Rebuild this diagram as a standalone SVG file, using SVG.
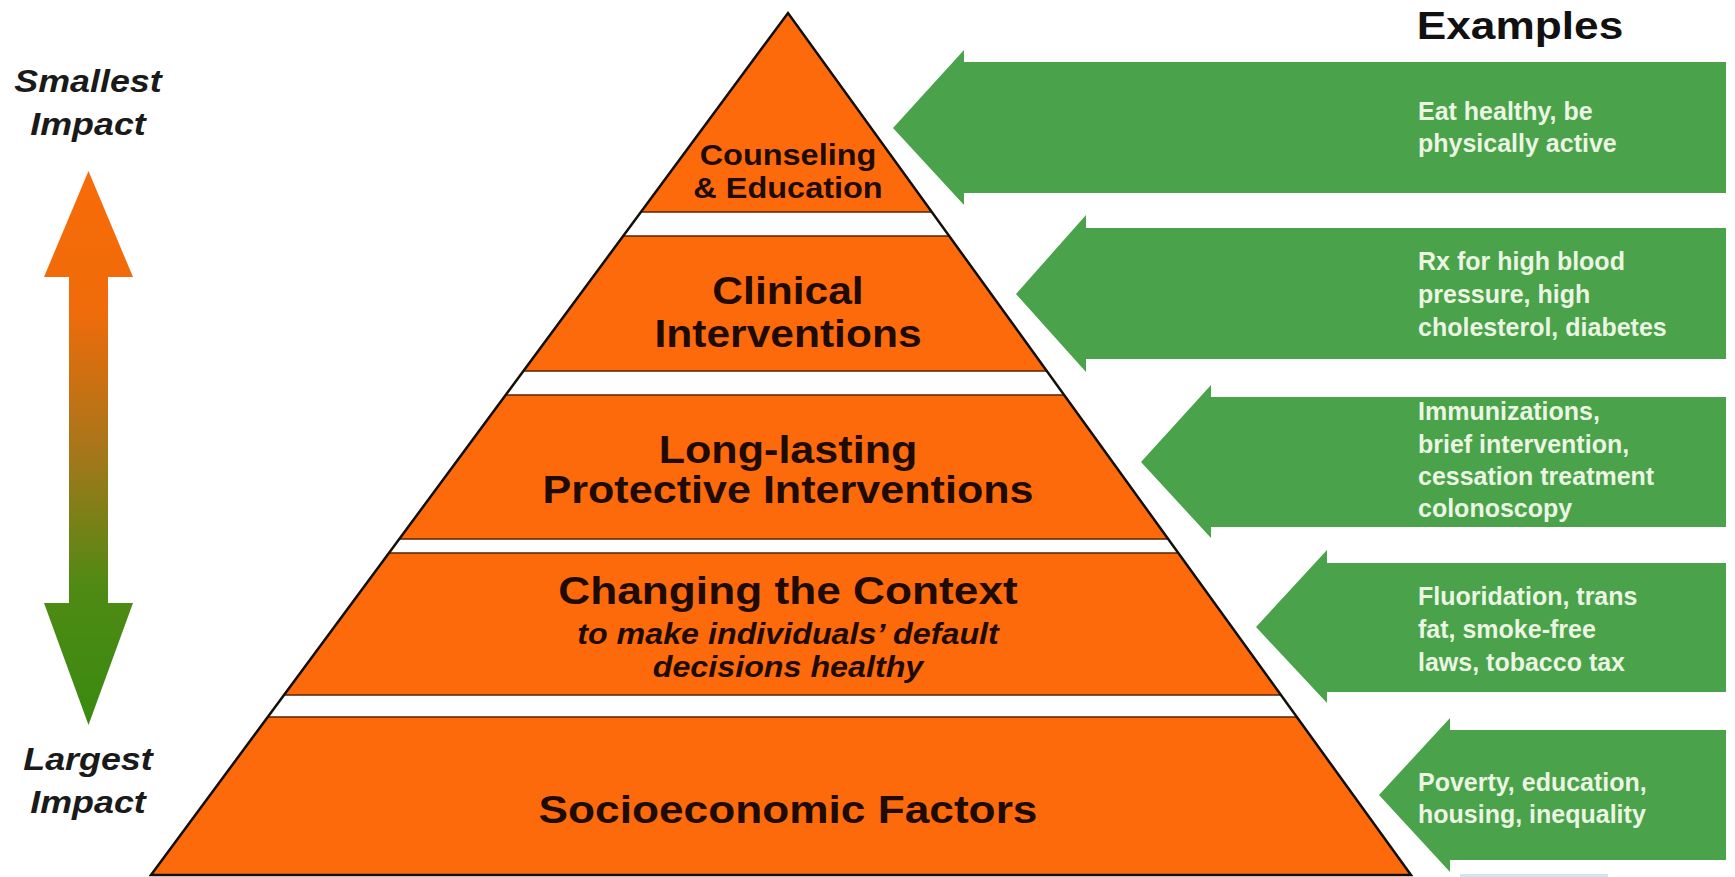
<svg xmlns="http://www.w3.org/2000/svg" width="1735" height="877" viewBox="0 0 1735 877">
  <defs>
    <!-- vertical impact scale: orange at the top fading to green at the bottom -->
    <linearGradient id="impactGrad" gradientUnits="userSpaceOnUse" x1="0" y1="171" x2="0" y2="725">
      <stop offset="0" stop-color="#F86B08"/>
      <stop offset="0.25" stop-color="#F06B0A"/>
      <stop offset="0.5" stop-color="#A8761A"/>
      <stop offset="0.75" stop-color="#4F8A14"/>
      <stop offset="1" stop-color="#3A8A10"/>
    </linearGradient>
    <style>
      .tier { fill: #FD6A0B; stroke: #5a2300; stroke-width: 1.5; }
      .outline { fill: none; stroke: #141008; stroke-width: 2.5; stroke-linejoin: miter; }
      .lbl { font-family: "Liberation Sans", Arial, sans-serif; font-weight: bold; fill: #1e0b02; text-anchor: middle; }
      .sub { font-style: italic; }
      .axis { font-family: "Liberation Sans", Arial, sans-serif; font-weight: bold; font-style: italic; font-size: 32px; fill: #1a1a1a; text-anchor: middle; }
      .head { font-family: "Liberation Sans", Arial, sans-serif; font-weight: bold; font-size: 39.5px; fill: #111; text-anchor: middle; }
      .ex { fill: #4AA24B; }
      .extxt { font-family: "Liberation Sans", Arial, sans-serif; font-weight: bold; font-size: 25px; fill: #EAF5E2; }
    </style>
  </defs>

  <rect width="1735" height="877" fill="#ffffff"/>

  <!-- impact scale on the left -->
  <g id="impact-scale">
    <text class="axis" transform="translate(88 92) scale(1.12 1)"><tspan x="0" y="0">Smallest</tspan><tspan x="0" y="43">Impact</tspan></text>
    <path d="M88.5,171 L133,277 L108,277 L108,603 L133,603 L88.5,725 L44,603 L69,603 L69,277 L44,277 Z" fill="url(#impactGrad)"/>
    <text class="axis" transform="translate(88 770) scale(1.12 1)"><tspan x="0" y="0">Largest</tspan><tspan x="0" y="43">Impact</tspan></text>
  </g>

  <!-- pyramid tiers, top to bottom -->
  <g id="tier-counseling">
    <polygon class="tier" points="788,13 931.8,212 640.9,212"/>
    <text class="lbl" font-size="29" transform="translate(788 165) scale(1.12 1)"><tspan x="0" y="0">Counseling</tspan><tspan x="0" y="33">&amp; Education</tspan></text>
  </g>
  <g id="tier-clinical">
    <polygon class="tier" points="623.2,236 949.2,236 1046.7,371 523.4,371"/>
    <text class="lbl" font-size="38" transform="translate(788 304) scale(1.12 1)"><tspan x="0" y="0">Clinical</tspan><tspan x="0" y="43">Interventions</tspan></text>
  </g>
  <g id="tier-protective">
    <polygon class="tier" points="505.7,395 1064.1,395 1168.2,539 399.3,539"/>
    <text class="lbl" font-size="38.5" transform="translate(788 463) scale(1.12 1)"><tspan x="0" y="0">Long-lasting</tspan><tspan x="0" y="40">Protective Interventions</tspan></text>
  </g>
  <g id="tier-context">
    <polygon class="tier" points="389,553 1178.3,553 1280.9,695 284,695"/>
    <text class="lbl" font-size="39.5" transform="translate(788 604) scale(1.12 1)">Changing the Context</text>
    <text class="lbl sub" font-size="28.8" transform="translate(788 644) scale(1.12 1)"><tspan x="0" y="0">to make individuals’ default</tspan><tspan x="0" y="33">decisions healthy</tspan></text>
  </g>
  <g id="tier-socioeconomic">
    <polygon class="tier" points="267.8,717 1296.8,717 1411,875 151,875"/>
    <text class="lbl" font-size="39.5" transform="translate(788 823) scale(1.12 1)">Socioeconomic Factors</text>
  </g>

  <!-- outer pyramid edge, running through the white bands -->
  <g id="pyramid-outline">
    <path class="outline" d="M151,875 L788,13 L1411,875 Z"/>
  </g>

  <!-- examples column -->
  <g id="examples-heading">
    <text class="head" transform="translate(1520 39) scale(1.12 1)">Examples</text>
  </g>

  <g id="connectors">
    <g id="example-counseling">
      <path class="ex" d="M893,128 L964,50 L964,62 L1726,62 L1726,193 L964,193 L964,205 Z"/>
      <text class="extxt"><tspan x="1418" y="120">Eat healthy, be</tspan><tspan x="1418" y="152">physically active</tspan></text>
    </g>
    <g id="example-clinical">
      <path class="ex" d="M1016,294 L1086,215 L1086,228 L1726,228 L1726,359 L1086,359 L1086,372 Z"/>
      <text class="extxt"><tspan x="1418" y="270">Rx for high blood</tspan><tspan x="1418" y="303">pressure, high</tspan><tspan x="1418" y="336">cholesterol, diabetes</tspan></text>
    </g>
    <g id="example-protective">
      <path class="ex" d="M1141,462 L1211,385 L1211,397 L1726,397 L1726,527 L1211,527 L1211,538 Z"/>
      <text class="extxt"><tspan x="1418" y="420">Immunizations,</tspan><tspan x="1418" y="453">brief intervention,</tspan><tspan x="1418" y="485">cessation treatment</tspan><tspan x="1418" y="517">colonoscopy</tspan></text>
    </g>
    <g id="example-context">
      <path class="ex" d="M1256,627 L1327,550 L1327,563 L1726,563 L1726,692 L1327,692 L1327,703 Z"/>
      <text class="extxt"><tspan x="1418" y="605">Fluoridation, trans</tspan><tspan x="1418" y="638">fat, smoke-free</tspan><tspan x="1418" y="671">laws, tobacco tax</tspan></text>
    </g>
    <g id="example-socioeconomic">
      <path class="ex" d="M1379,795 L1450,718 L1450,730 L1726,730 L1726,860 L1450,860 L1450,872 Z"/>
      <text class="extxt"><tspan x="1418" y="791">Poverty, education,</tspan><tspan x="1418" y="823">housing, inequality</tspan></text>
    </g>
  </g>

  <!-- thin light-blue strip at the lower edge -->
  <rect x="1460" y="874" width="148" height="3" fill="#cfe6f4"/>
</svg>
